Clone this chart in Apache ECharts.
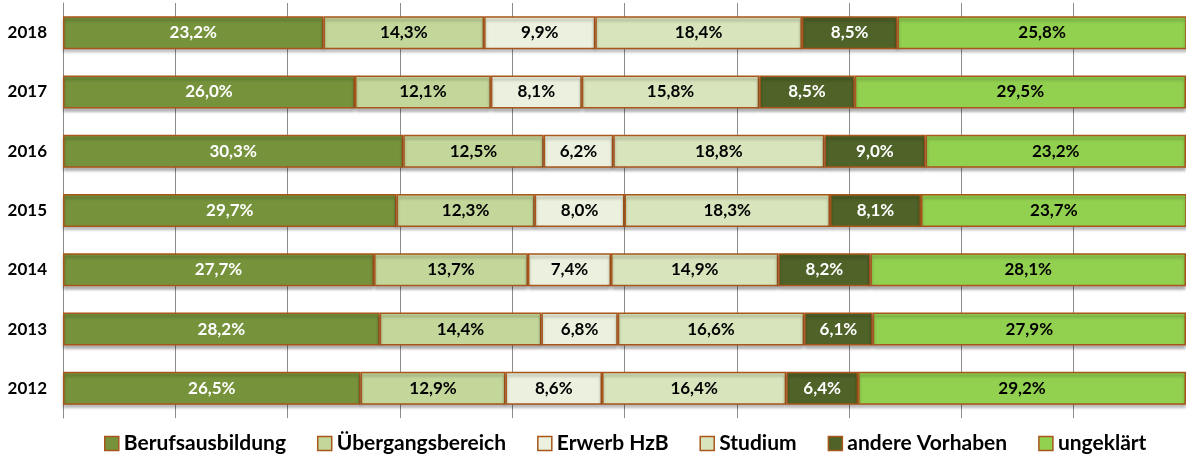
<!DOCTYPE html>
<html>
<head>
<meta charset="utf-8">
<script src="https://cdn.jsdelivr.net/npm/echarts@6/dist/echarts.min.js"></script>
<style>
  html, body { margin: 0; padding: 0; background: #fff; }
  #chart { width: 1186px; height: 458px; }
</style>
</head>
<body>
<div id="chart"></div>
<script>
// Jahre (oben nach unten)
const years = ['2018', '2017', '2016', '2015', '2014', '2013', '2012'];

// Anteile in Prozent je Verbleib
const berufsausbildung = [23.2, 26.0, 30.3, 29.7, 27.7, 28.2, 26.5];
const uebergangsbereich = [14.3, 12.1, 12.5, 12.3, 13.7, 14.4, 12.9];
const erwerbHzB = [9.9, 8.1, 6.2, 8.0, 7.4, 6.8, 8.6];
const studium = [18.4, 15.8, 18.8, 18.3, 14.9, 16.6, 16.4];
const andereVorhaben = [8.5, 8.5, 9.0, 8.1, 8.2, 6.1, 6.4];
const ungeklaert = [25.8, 29.5, 23.2, 23.7, 28.1, 27.9, 29.2];

const seriesDefs = [
  { name: 'Berufsausbildung', data: berufsausbildung, color: '#76933C', text: '#ffffff' },
  { name: 'Übergangsbereich', data: uebergangsbereich, color: '#C4D79B', text: '#000000' },
  { name: 'Erwerb HzB', data: erwerbHzB, color: '#EBF1DE', text: '#000000' },
  { name: 'Studium', data: studium, color: '#D8E4BC', text: '#000000' },
  { name: 'andere Vorhaben', data: andereVorhaben, color: '#4F6228', text: '#ffffff' },
  { name: 'ungeklärt', data: ungeklaert, color: '#92D050', text: '#000000' }
];

const borderColor = '#A8561A';
const fontFamily = 'Lato, "Open Sans", sans-serif';

const chart = echarts.init(document.getElementById('chart'), null, { renderer: 'canvas' });

chart.setOption({
  animation: false,
  textStyle: { fontFamily: fontFamily },
  grid: { left: 63, width: 1124, top: 3, bottom: 40, containLabel: false },
  legend: {
    left: 99,
    top: 428,
    itemWidth: 14,
    itemHeight: 14,
    itemGap: 31,
    icon: 'rect',
    itemStyle: { borderColor: borderColor, borderWidth: 1.5 },
    textStyle: { fontFamily: fontFamily, fontSize: 21, fontWeight: 'bold', color: '#000' },
    data: seriesDefs.map(s => s.name)
  },
  xAxis: {
    type: 'value',
    min: 0,
    max: 100,
    interval: 10,
    axisLine: { show: false },
    axisTick: { show: false },
    axisLabel: { show: false },
    splitLine: { show: true, lineStyle: { color: '#8c8c8c', width: 1 } }
  },
  yAxis: {
    type: 'category',
    data: years,
    inverse: true,
    axisLine: { show: true, lineStyle: { color: '#8c8c8c', width: 1 } },
    axisTick: { show: false },
    axisLabel: {
      margin: 16,
      fontFamily: fontFamily,
      fontSize: 17,
      fontWeight: 'bold',
      color: '#000'
    }
  },
  series: seriesDefs.map(s => ({
    name: s.name,
    type: 'bar',
    stack: 'total',
    barWidth: 33,
    data: s.data,
    itemStyle: {
      color: s.color,
      borderColor: borderColor,
      borderWidth: 1.5,
      shadowColor: 'rgba(0,0,0,0.3)',
      shadowBlur: 3,
      shadowOffsetY: 3
    },
    label: {
      show: true,
      position: 'inside',
      fontFamily: fontFamily,
      fontSize: 17,
      fontWeight: 'bold',
      color: s.text,
      formatter: p => p.value.toFixed(1).replace('.', ',') + '%'
    }
  }))
});
</script>
</body>
</html>
